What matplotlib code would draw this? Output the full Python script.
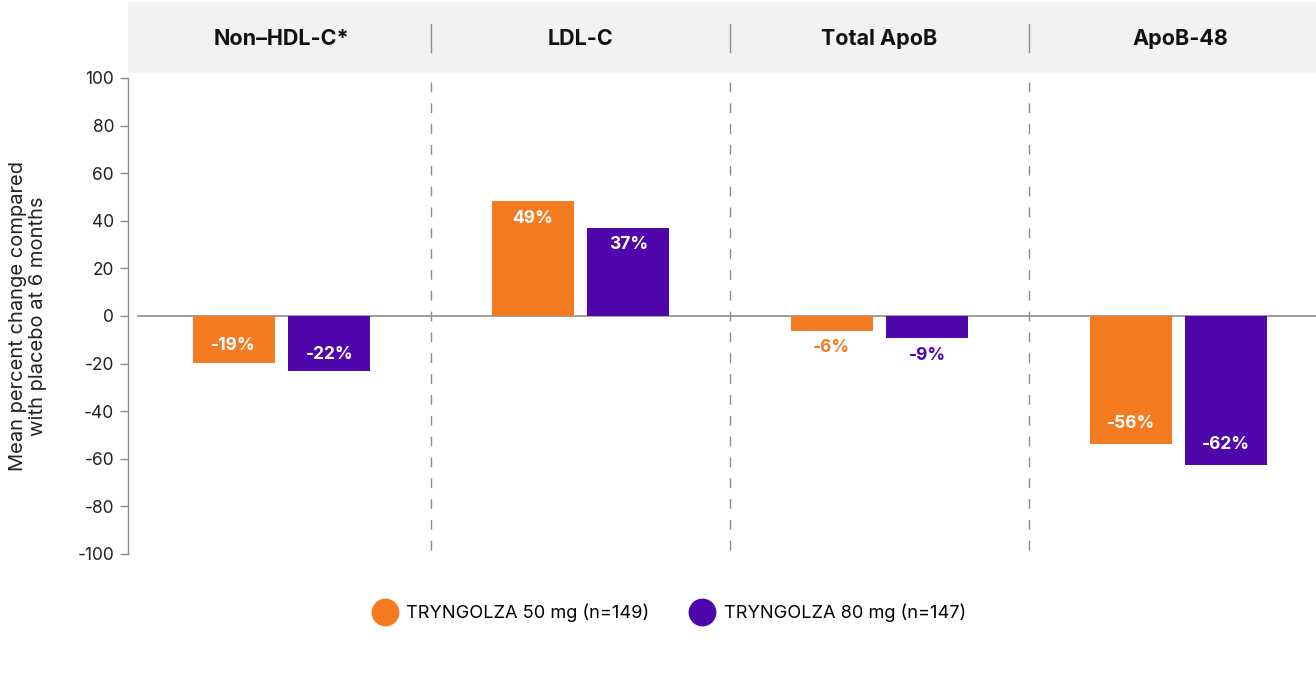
import matplotlib
matplotlib.use("Agg")
import matplotlib.pyplot as plt
from matplotlib.lines import Line2D
from matplotlib.patches import Rectangle

categories = ["Non\u2013HDL-C*", "LDL-C", "Total ApoB", "ApoB-48"]
series_names = ["TRYNGOLZA 50 mg (n=149)", "TRYNGOLZA 80 mg (n=147)"]
values_50 = [-19.6, 48.3, -6.3, -53.6]
values_80 = [-23.2, 37.0, -9.4, -62.5]
labels_50 = ["-19%", "49%", "-6%", "-56%"]
labels_80 = ["-22%", "37%", "-9%", "-62%"]
inside_50 = [True, True, False, True]
inside_80 = [True, True, False, True]
yticks = [100, 80, 60, 40, 20, 0, -20, -40, -60, -80, -100]
ylabel = "Mean percent change compared\nwith placebo at 6 months"

ORANGE = "#F57B20"
PURPLE = "#4F07AD"
GRAY = "#8c8c8c"
FONT = "Inter"

W, H = 1316, 680
fig = plt.figure(figsize=(W / 100, H / 100), dpi=100)

ax_l, ax_r = 128, 1316
ax_top, ax_bot = 78, 554
ax = fig.add_axes([ax_l / W, 1 - ax_bot / H, (ax_r - ax_l) / W, (ax_bot - ax_top) / H])

# header band
hdr_top, hdr_bot = 2, 73
fig.patches.append(Rectangle((ax_l / W, 1 - hdr_bot / H), (ax_r - ax_l) / W,
                             (hdr_bot - hdr_top) / H, transform=fig.transFigure,
                             facecolor="#f2f2f2", edgecolor="none", zorder=0))

# x mapping: pixel = 281.5 + 299 * x
a, b = 281.5, 299.0
xlim = ((ax_l - a) / b, (ax_r - a) / b)
ax.set_xlim(*xlim)
ax.set_ylim(-100, 100)

off = 0.16
bw = 0.275
xs = list(range(len(categories)))
x50 = [x - off for x in xs]
x80 = [x + off for x in xs]
ax.bar(x50, values_50, width=bw, color=ORANGE, zorder=3)
ax.bar(x80, values_80, width=bw, color=PURPLE, zorder=3)

def put_labels(xpos, vals, labs, inside, color):
    for x, v, lab, ins in zip(xpos, vals, labs, inside):
        if ins:
            dy = -17 if v > 0 else 17
            if v < -40:
                dy = 20
            c = "white"
        else:
            dy = -17 if v < 0 else 17
            c = color
        ax.annotate(lab, (x, v), xytext=(0, dy * 0.72), textcoords="offset points",
                    ha="center", va="center", color=c, fontsize=12.5,
                    fontweight="bold", family=FONT, zorder=4)

put_labels(x50, values_50, labels_50, inside_50, ORANGE)
put_labels(x80, values_80, labels_80, inside_80, PURPLE)

# zero line
zx0 = (138 - ax_l) / (ax_r - ax_l)
ax.axhline(0, xmin=zx0, xmax=1, color=GRAY, lw=1.2, zorder=2)

# dashed separators
for i in range(len(categories) - 1):
    ax.plot([i + 0.5, i + 0.5], [98.5, -99], color=GRAY, lw=1.0,
            linestyle=(0, (7, 8)), zorder=1, clip_on=False)

# header titles and separators
for i, cat in enumerate(categories):
    xc_pix = a + b * i
    if i == len(categories) - 1:
        xc_pix = 1180
    fig.text(xc_pix / W, 1 - 39 / H, cat, ha="center", va="center",
             fontsize=15.5, fontweight="bold", family=FONT, color="#111111")
for i in range(len(categories) - 1):
    xp = (a + b * (i + 0.5)) / W
    fig.add_artist(Line2D([xp, xp], [1 - 24 / H, 1 - 52 / H], color=GRAY, lw=1.0,
                          transform=fig.transFigure))

# spines / ticks
for s in ["top", "right", "bottom"]:
    ax.spines[s].set_visible(False)
ax.spines["left"].set_color(GRAY)
ax.spines["left"].set_linewidth(1.0)
ax.set_xticks([])
ax.set_yticks(yticks)
ax.set_yticklabels([str(t) for t in yticks], family=FONT, fontsize=12.5, color="#222222")
ax.tick_params(axis="y", length=6, width=1, color=GRAY, pad=4)
ax.set_ylabel(ylabel, family=FONT, fontsize=14.5, color="#222222", labelpad=22,
              linespacing=1.1)

# legend
handles = [Line2D([], [], marker="o", linestyle="none", markersize=19,
                  markerfacecolor=ORANGE, markeredgecolor=ORANGE),
           Line2D([], [], marker="o", linestyle="none", markersize=19,
                  markerfacecolor=PURPLE, markeredgecolor=PURPLE)]
fig.legend(handles, series_names, loc="center", bbox_to_anchor=(670 / W, 1 - 613 / H),
           ncol=2, frameon=False, prop={"family": FONT, "size": 13.1},
           handletextpad=0.6, columnspacing=2.3, handlelength=1.2)

fig.savefig("out.png", dpi=100, facecolor="white")
